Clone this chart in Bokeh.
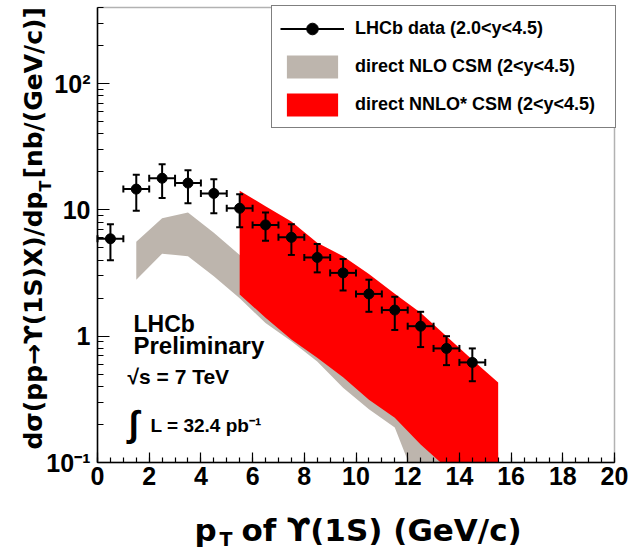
import math
from bokeh.plotting import figure
from bokeh.models import (ColumnDataSource, Whisker, TeeHead, FixedTicker, Label,
                          Legend, LegendItem, Range1d, BasicTickFormatter, BoxAnnotation)
from bokeh.embed import file_html
from bokeh.resources import INLINE

# ---------------- data ----------------
pt = [0.5, 1.5, 2.5, 3.5, 4.5, 5.5, 6.5, 7.5, 8.5, 9.5, 10.5, 11.5, 12.5, 13.5, 14.5]
pt_lo = [0, 1, 2, 3, 4, 5, 6, 7, 8, 9, 10, 11, 12, 13, 14]
pt_hi = [1, 2, 3, 4, 5, 6, 7, 8, 9, 10, 11, 12, 13, 14, 15]
xsec = [5.9, 14.6, 17.8, 16.3, 13.5, 10.3, 7.6, 6.06, 4.2, 3.17, 2.16, 1.61, 1.20, 0.80, 0.62]
err_up = [1.8, 4.4, 5.2, 4.3, 4.0, 3.0, 1.95, 1.64, 1.17, 0.91, 0.64, 0.44, 0.36, 0.20, 0.18]
err_dn = [1.9, 4.75, 5.4, 5.0, 4.1, 3.0, 1.9, 1.66, 1.0, 0.87, 0.60, 0.49, 0.38, 0.21, 0.18]

nlo_pt = [1.5, 2.5, 3.5, 4.5, 5.5, 6.5, 7.5, 8.5, 9.5, 10.5, 11.5, 12.5, 13.5, 14.5, 15.5]
nlo_high = [5.6, 8.6, 9.55, 6.6, 4.4, 3.0, 2.2, 1.5, 1.05, 0.72, 0.5, 0.35, 0.25, 0.17, 0.12]
nlo_low = [2.8, 4.5, 4.3, 2.98, 2.0, 1.27, 0.91, 0.63, 0.39, 0.264, 0.189, 0.057, 0.035, 0.02, 0.012]

nnlo_pt = [5.5, 6.5, 7.5, 8.5, 9.5, 10.5, 11.5, 12.5, 13.5, 14.5, 15.5]
nnlo_high = [14.2, 10.7, 8.1, 5.5, 4.3, 3.1, 2.17, 1.53, 1.0, 0.65, 0.43]
nnlo_low = [2.14, 1.40, 0.94, 0.675, 0.474, 0.314, 0.226, 0.139, 0.091, 0.06, 0.04]

x_ticks = [0, 2, 4, 6, 8, 10, 12, 14, 16, 18, 20]
x_minor = [i * 0.5 for i in range(41)]
y_ticks = [0.1, 1, 10, 100]
y_tick_labels = ["10⁻¹", "1", "10", "10²"]
y_minor = [m * d for d in (0.1, 1, 10, 100) for m in range(2, 10)]

X_MIN, X_MAX = 0, 20
Y_MIN, Y_MAX = 0.1, 400

# ---------------- layout (pixels) ----------------
W, H = 640, 551
BOX_L, BOX_R, BOX_T, BOX_B = 97, 614, 7, 462   # visible plot box on the canvas

FONT = "Liberation Sans"
TITLE_FONT = "DejaVu Sans"
GRAY = "#bdb5ad"
RED = "#ff0000"

px_per_x = (BOX_R - BOX_L) / (X_MAX - X_MIN)
x_start = X_MIN - BOX_L / px_per_x
x_end = X_MAX + (W - BOX_R) / px_per_x
px_per_dec = (BOX_B - BOX_T) / (math.log10(Y_MAX) - math.log10(Y_MIN))
y_start = 10 ** (math.log10(Y_MIN) - (H - BOX_B) / px_per_dec)
y_end = 10 ** (math.log10(Y_MAX) + BOX_T / px_per_dec)

p = figure(width=W, height=H, x_range=Range1d(x_start, x_end),
           y_range=Range1d(y_start, y_end), y_axis_type="log",
           output_backend="svg", toolbar_location=None,
           min_border=0, min_border_left=0, min_border_right=0,
           min_border_top=0, min_border_bottom=0)
p.grid.visible = False
p.outline_line_color = None
p.background_fill_color = "white"
p.border_fill_color = "white"

# axes, pinned to the plot box
p.xaxis.fixed_location = Y_MIN
p.yaxis.fixed_location = X_MIN
p.xaxis.bounds = (X_MIN, X_MAX)
p.yaxis.bounds = (Y_MIN, Y_MAX)
p.xaxis.ticker = FixedTicker(ticks=x_ticks, minor_ticks=x_minor)
p.yaxis.ticker = FixedTicker(ticks=y_ticks, minor_ticks=y_minor)
p.yaxis.formatter = BasicTickFormatter()
p.yaxis.major_label_overrides = {t: l for t, l in zip(y_ticks, y_tick_labels)}
for ax in (p.xaxis[0], p.yaxis[0]):
    ax.axis_line_width = 1.5
    ax.axis_line_color = "black"
    ax.major_tick_out = 0
    ax.minor_tick_out = 0
    ax.major_tick_line_color = "black"
    ax.minor_tick_line_color = "black"
    ax.major_tick_line_width = 1.2
    ax.minor_tick_line_width = 1.2
    ax.major_label_text_font = FONT
    ax.major_label_text_font_style = "bold"
    ax.major_label_text_font_size = "25px"
    ax.major_label_text_color = "black"
p.xaxis.major_tick_in = 10
p.xaxis.minor_tick_in = 5
p.xaxis.major_label_standoff = 4
p.yaxis.major_tick_in = 12
p.yaxis.minor_tick_in = 6
p.yaxis.major_label_standoff = 7

# bands
r_nlo = p.varea(x=nlo_pt, y1=nlo_low, y2=nlo_high, fill_color=GRAY, level="underlay")
r_nnlo = p.varea(x=nnlo_pt, y1=nnlo_low, y2=nnlo_high, fill_color=RED, level="underlay")

# hide whatever falls below the y minimum, then draw the plot box
p.add_layout(BoxAnnotation(top=Y_MIN, fill_color="white", fill_alpha=1.0,
                           line_alpha=0, level="glyph"))
p.add_layout(BoxAnnotation(left=X_MIN, right=X_MAX, bottom=Y_MIN, top=Y_MAX,
                           fill_alpha=0, line_color="black", line_width=1.5,
                           level="guide"))

# data
src = ColumnDataSource(dict(
    pt=pt, ptlo=pt_lo, pthi=pt_hi, xsec=xsec,
    hi=[y + e for y, e in zip(xsec, err_up)],
    lo=[y - e for y, e in zip(xsec, err_dn)],
))
r_h = p.segment(x0="ptlo", y0="xsec", x1="pthi", y1="xsec", source=src,
                line_color="black", line_width=2)
vw = Whisker(source=src, base="pt", upper="hi", lower="lo", dimension="height",
             line_color="black", line_width=2,
             upper_head=TeeHead(size=7, line_width=2, line_color="black"),
             lower_head=TeeHead(size=7, line_width=2, line_color="black"))
hw = Whisker(source=src, base="xsec", upper="pthi", lower="ptlo", dimension="width",
             line_alpha=0,
             upper_head=TeeHead(size=7, line_width=2, line_color="black"),
             lower_head=TeeHead(size=7, line_width=2, line_color="black"))
p.add_layout(vw)
p.add_layout(hw)
r_pts = p.scatter(x="pt", y="xsec", source=src, size=10, marker="circle",
                  fill_color="black", line_color="black")

# legend: top-right corner of the plot box
LEG_W, LEG_H = 343, 121
legend = Legend(items=[
    LegendItem(label="LHCb data (2.0<y<4.5)", renderers=[r_h, r_pts]),
    LegendItem(label="direct NLO CSM (2<y<4.5)", renderers=[r_nlo]),
    LegendItem(label="direct NNLO* CSM (2<y<4.5)", renderers=[r_nnlo]),
], location=(BOX_R - LEG_W, H - BOX_T - LEG_H), margin=0, padding=8, spacing=9,
   glyph_width=64, glyph_height=29, label_standoff=11, label_width=252, label_height=29,
   border_line_color="black", border_line_width=1.5, background_fill_color="white",
   background_fill_alpha=1.0,
   label_text_font=FONT, label_text_font_style="bold", label_text_font_size="18px",
   label_text_color="black")
p.add_layout(legend)


def lab(xc, yc, text, size, align="left", angle=0.0, font=FONT):
    """xc, yc: canvas pixels measured from the top-left corner."""
    p.add_layout(Label(x=xc, y=H - yc, x_units="screen", y_units="screen", text=text,
                       text_font=font, text_font_style="bold", text_font_size=size,
                       text_color="black", text_align=align, text_baseline="alphabetic",
                       angle=angle))


# in-plot annotations
lab(133, 323, "LHCb", "23px")
lab(133, 345, "Preliminary", "24px")
lab(127, 376, "√s = 7 TeV", "21px")
lab(128, 423, "∫", "36px")
lab(150, 425, "L = 32.4 pb⁻¹", "19px")

# x axis title
lab(194, 529, "p", "31px", font=TITLE_FONT)
lab(219, 538, "T", "19px", font=TITLE_FONT)
lab(241, 529, "of ϒ(1S) (GeV/c)", "31px", font=TITLE_FONT)

# y axis title (rotated)
lab(33, 191, "dσ(pp→ϒ(1S)X)/dp", "25px", align="right", angle=math.pi / 2, font=TITLE_FONT)
lab(45, 191, "T", "16px", angle=math.pi / 2, font=TITLE_FONT)
lab(33, 178, "[nb/(GeV/c)]", "25px", angle=math.pi / 2, font=TITLE_FONT)

open("out.html", "w").write(file_html(p, INLINE))
